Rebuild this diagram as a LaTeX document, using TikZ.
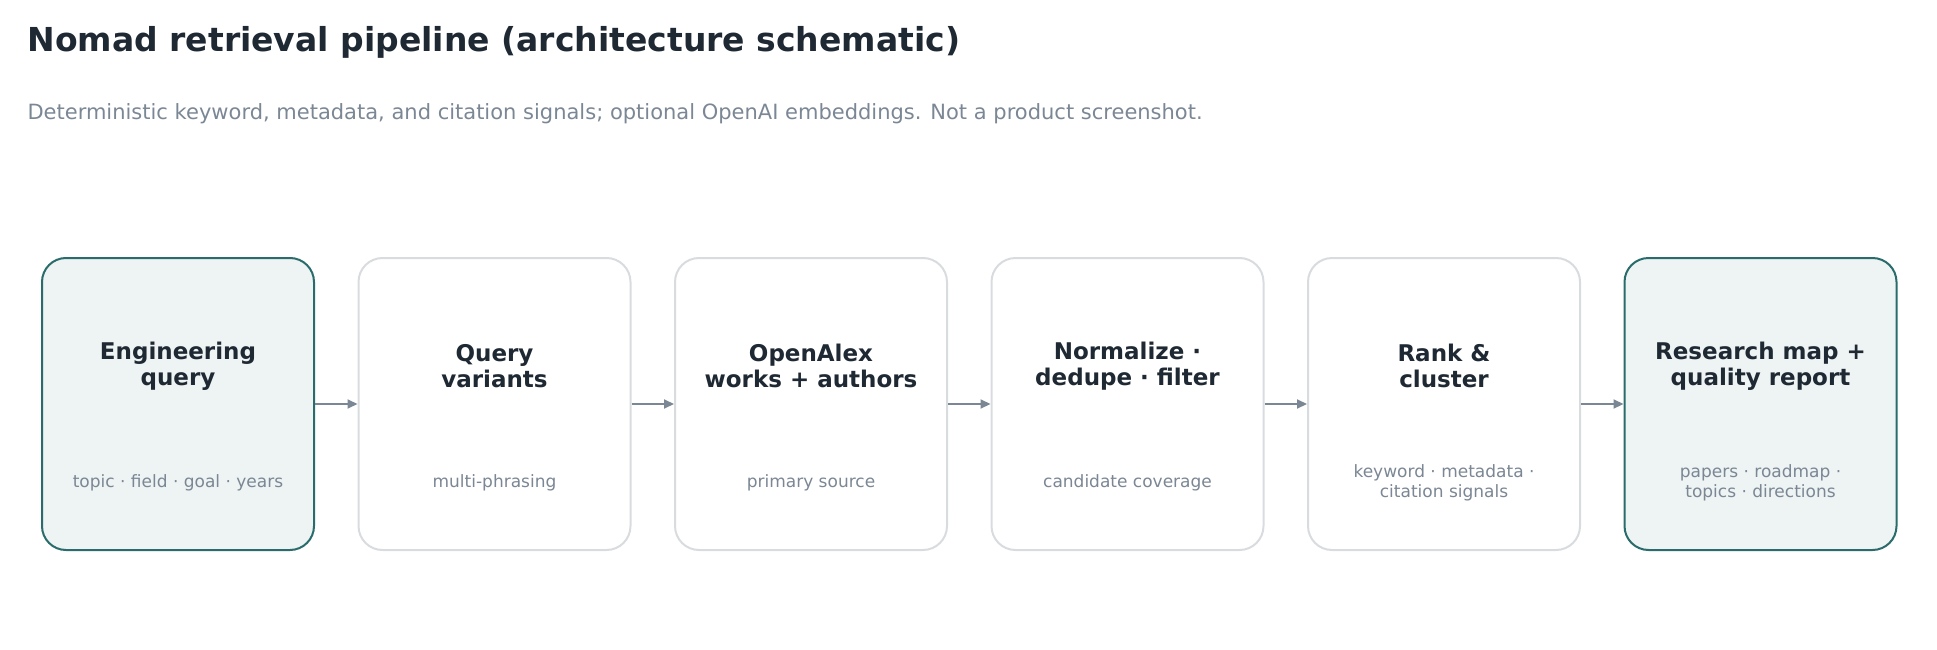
\documentclass[tikz,border=0pt]{standalone}
\usepackage{fontspec}
\setmainfont{DejaVu Sans}
\usetikzlibrary{arrows.meta}
\definecolor{ink}{HTML}{1F2933}
\definecolor{mute}{HTML}{7B8794}
\definecolor{teal}{HTML}{2A6B6B}
\definecolor{tealbg}{HTML}{EEF3F3}
\definecolor{edge}{HTML}{D9DCDF}
\begin{document}
\begin{tikzpicture}[x=1pt,y=-1pt,
 box/.style={draw=edge,line width=2pt,fill=white,rounded corners=24pt,minimum width=272pt,minimum height=292pt,inner sep=0pt},
 hl/.style={box,draw=teal,fill=tealbg},
 ttl/.style={align=center,font=\fontsize{23}{26}\selectfont\bfseries,text=ink},
 sub/.style={align=center,font=\fontsize{17}{20}\selectfont,text=mute},
 arr/.style={draw=mute,line width=2pt,-{Triangle[length=10pt,width=9pt]}}]
\useasboundingbox (0,0) rectangle (1937,650);
\node[anchor=west,text=ink,font=\fontsize{33}{38}\selectfont\bfseries] (title) at (24,42) {Nomad retrieval pipeline (architecture schematic)};
\node[anchor=west,text=mute,font=\fontsize{21}{24}\selectfont] (subtitle) at (24,114) {Deterministic keyword, metadata, and citation signals; optional OpenAI embeddings. Not a product screenshot.};
\foreach \i/\s/\t/\u in {0/hl/{Engineering\\query}/{topic · field · goal · years},
 1/box/{Query\\variants}/{multi-phrasing},
 2/box/{OpenAlex\\works + authors}/{primary source},
 3/box/{Normalize ·\\dedupe · filter}/{candidate coverage},
 4/box/{Rank \&\\cluster}/{keyword · metadata ·\\citation signals},
 5/hl/{Research map +\\quality report}/{papers · roadmap ·\\topics · directions}}{
 \node[\s] (b\i) at (178+316.5*\i,404) {};
 \node[ttl] (t\i) at (178+316.5*\i,366) {\t};
 \node[sub] (s\i) at (178+316.5*\i,483) {\u};
}
\foreach \i [evaluate=\i as \j using int(\i+1)] in {0,...,4}{
 \draw[arr] (b\i.east) -- (b\j.west);
}
\end{tikzpicture}
\end{document}
